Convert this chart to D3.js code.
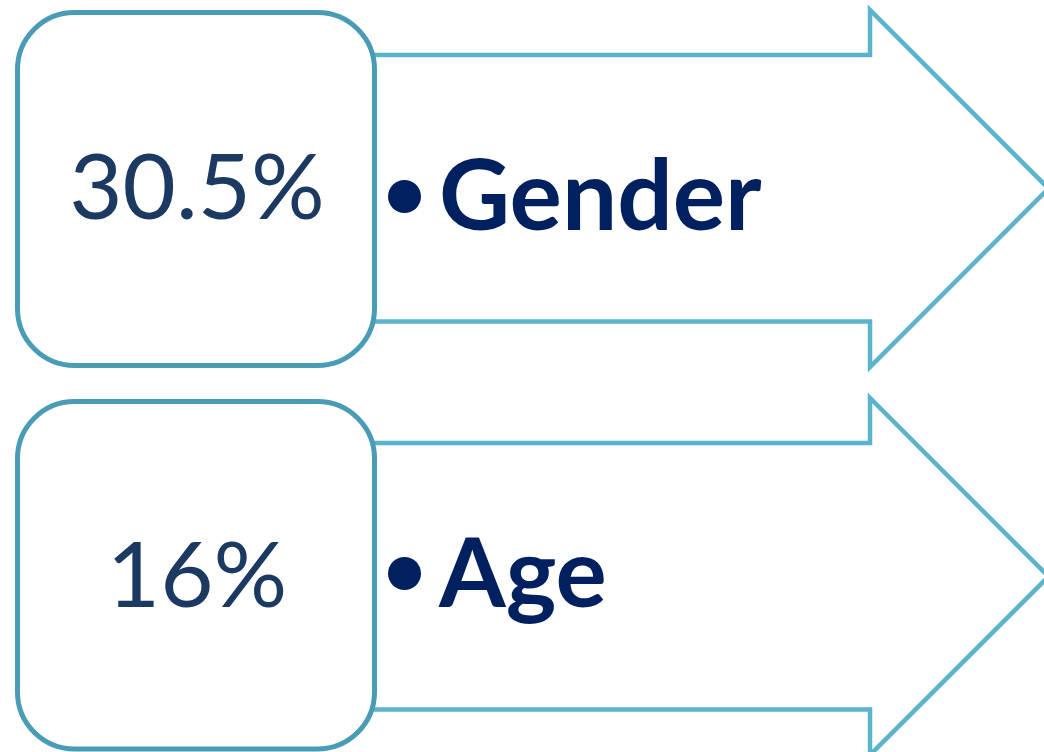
<!DOCTYPE html>
<html>
<head>
<meta charset="utf-8">
<script src="https://cdn.jsdelivr.net/npm/d3@7"></script>
<style>
  html, body { margin: 0; padding: 0; background: #ffffff; }
  svg { display: block; }
</style>
</head>
<body>
<svg id="chart" width="1044" height="752"></svg>
<script>
// ---- data ----
const rows = ["r1", "r2"];
const values = ["30.5%", "16%"];
const labels = ["Gender", "Age"];

// ---- layout ----
const W = 1044, H = 752;
const svg = d3.select("#chart");

const rowScale = d3.scaleBand().domain(rows).range([10, 10 + 388 * 2]).paddingInner(0).paddingOuter(0);
// label vertical offset inside each row (bullet centre relative to row top)
const bulletOffset = [186.5, 175.5];
const boxTop = [2.5, 3.5];
const boxHeight = [353, 347.5];
const labelSize = [98, 96];

const arrowColor = "#5bb4cc";
const boxColor = "#4a9cb6";

const g = svg.selectAll("g.row")
  .data(rows.map((r, i) => ({ key: r, value: values[i], label: labels[i], i })))
  .join("g")
  .attr("class", "row")
  .attr("transform", d => `translate(0,${rowScale(d.key)})`);

// arrows
const arrowPath = () => {
  const p = d3.path();
  p.moveTo(340, 45);
  p.lineTo(870, 45);
  p.lineTo(870, 0);
  p.lineTo(1048.5, 178.5);
  p.lineTo(870, 357);
  p.lineTo(870, 311.5);
  p.lineTo(340, 311.5);
  p.closePath();
  return p.toString();
};
g.append("path")
  .attr("d", arrowPath)
  .attr("fill", "#ffffff")
  .attr("stroke", arrowColor)
  .attr("stroke-width", 4.5)
  .attr("stroke-linejoin", "miter");

// rounded boxes
g.append("rect")
  .attr("x", 17.5)
  .attr("y", d => boxTop[d.i])
  .attr("width", 357)
  .attr("height", d => boxHeight[d.i])
  .attr("rx", 57)
  .attr("ry", 57)
  .attr("fill", "#ffffff")
  .attr("stroke", boxColor)
  .attr("stroke-width", 5);

// numbers
g.append("text")
  .attr("x", 197)
  .attr("y", 208.5)
  .attr("text-anchor", "middle")
  .attr("font-family", "Lato, 'Open Sans', sans-serif")
  .attr("font-size", 92)
  .attr("fill", "#1c3a61")
  .text(d => d.value);

// bullets
g.append("circle")
  .attr("cx", 404.5)
  .attr("cy", d => bulletOffset[d.i])
  .attr("r", 16.5)
  .attr("fill", "#00205f");

// labels
g.append("text")
  .attr("x", 439)
  .attr("y", d => bulletOffset[d.i] + 33)
  .attr("font-family", "Lato, 'Open Sans', sans-serif")
  .attr("font-weight", "bold")
  .attr("font-size", d => labelSize[d.i])
  .attr("fill", "#00205f")
  .text(d => d.label);
</script>
</body>
</html>
